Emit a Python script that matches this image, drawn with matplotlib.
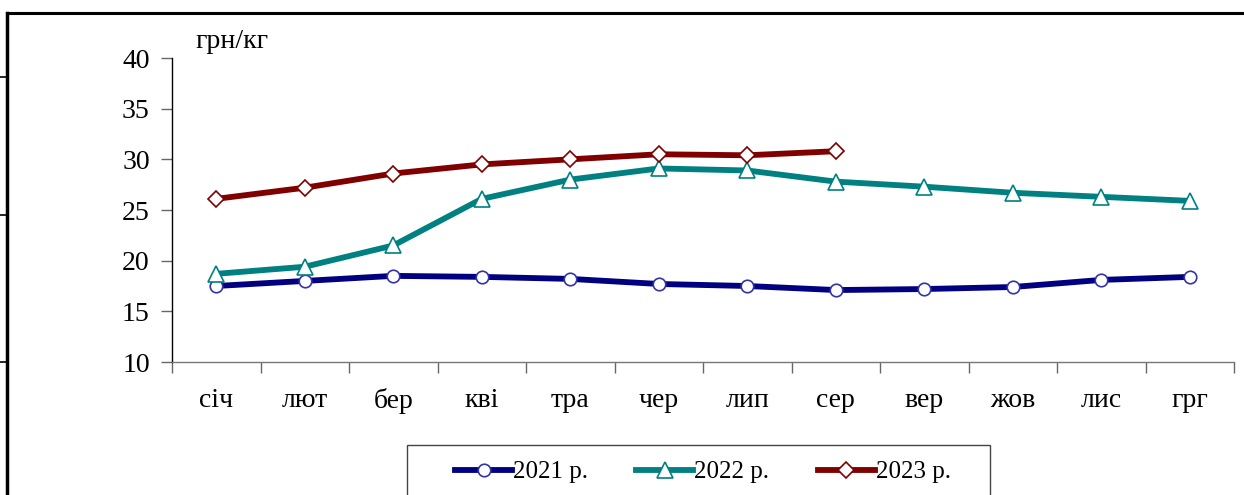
import matplotlib
matplotlib.use("Agg")
import matplotlib.pyplot as plt
from matplotlib.lines import Line2D
from matplotlib.patches import Rectangle

months = ["січ", "лют", "бер", "кві", "тра", "чер", "лип", "сер", "вер", "жов", "лис", "грг"]
y2021 = [17.5, 18.0, 18.5, 18.4, 18.2, 17.7, 17.5, 17.1, 17.2, 17.4, 18.1, 18.4]
y2022 = [18.7, 19.4, 21.5, 26.1, 28.0, 29.1, 28.9, 27.8, 27.3, 26.7, 26.3, 25.9]
y2023 = [26.1, 27.2, 28.6, 29.5, 30.0, 30.5, 30.4, 30.8]
labels = ["2021 р.", "2022 р.", "2023 р."]
yticks = [10, 15, 20, 25, 30, 35, 40]

plt.rcParams['font.family'] = ['Liberation Serif', 'DejaVu Serif']

W, H = 1244, 495
fig = plt.figure(figsize=(W / 100, H / 100), dpi=100)

LW = 4.2
ax = fig.add_axes([172 / W, 1 - 362 / H, (1234 - 172) / W, (362 - 58) / H])
x = list(range(len(months)))
ax.plot(x, y2021, color="#000080", lw=LW, marker="o", ms=9, mfc="white", mec="#3333AA", mew=1.2, solid_capstyle="round", zorder=3)
ax.plot(x, y2022, color="#008080", lw=LW, marker="^", ms=11, mfc="white", mec="#008080", mew=1.2, solid_capstyle="round", zorder=3)
ax.plot(x[:len(y2023)], y2023, color="#800000", lw=LW, marker="D", ms=8, mfc="white", mec="#800000", mew=1.2, solid_capstyle="round", zorder=3)

ax.set_xlim(-0.5, len(months) - 0.5)
ax.set_ylim(10, 40)
ax.set_yticks(yticks)
ax.set_yticklabels([str(v) for v in yticks])
ax.set_xticks([i - 0.5 for i in range(len(months) + 1)], minor=False)
ax.set_xticklabels([])
ax.set_xticks(x, minor=True)
ax.set_xticklabels(months, minor=True)
ax.tick_params(axis="x", which="major", direction="out", length=8, color="#666666", width=1)
ax.tick_params(axis="x", which="minor", length=0, pad=19, labelsize=20)
ax.tick_params(axis="y", direction="out", length=8, color="#666666", width=1, labelsize=20, pad=8)
for s in ["top", "right"]:
    ax.spines[s].set_visible(False)
ax.spines["left"].set_color("black")
ax.spines["bottom"].set_color("#777777")
ax.spines["left"].set_linewidth(1)
ax.spines["bottom"].set_linewidth(1)

fig.text(195 / W, 1 - 42 / H, "грн/кг", fontsize=20, ha="left", va="center")

handles = [
    Line2D([], [], color="#000080", lw=LW, marker="o", ms=9, mfc="white", mec="#3333AA", mew=1.2),
    Line2D([], [], color="#008080", lw=LW, marker="^", ms=11, mfc="white", mec="#008080", mew=1.2),
    Line2D([], [], color="#800000", lw=LW, marker="D", ms=8, mfc="white", mec="#800000", mew=1.2),
]
fig.add_artist(Rectangle((407 / W, -0.05), (990 - 407) / W, (1 - 445 / H) + 0.05, transform=fig.transFigure,
                         fill=False, edgecolor="#444444", lw=1))
leg = fig.legend(handles, labels, loc="center left", bbox_to_anchor=(455 / W, 1 - 472 / H), ncol=3,
                 fontsize=18, frameon=False,
                 handlelength=2.28, handletextpad=0.05, columnspacing=1.92, borderpad=0,
                 borderaxespad=0)

# page frame
fig.add_artist(Line2D([7 / W, 7 / W], [0, 1 - 13 / H], color="black", lw=2.5, transform=fig.transFigure))
fig.add_artist(Line2D([7 / W, 1], [1 - 13 / H, 1 - 13 / H], color="black", lw=2.2, transform=fig.transFigure))
for yy in [77, 215, 362]:
    fig.add_artist(Line2D([0, 7 / W], [1 - yy / H, 1 - yy / H], color="black", lw=1.2, transform=fig.transFigure))

fig.savefig("out.png", dpi=100)
